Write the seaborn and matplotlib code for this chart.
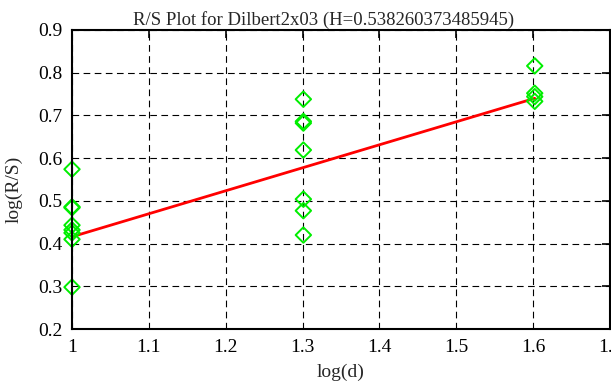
import numpy as np
import pandas as pd
import matplotlib
matplotlib.use("Agg")
import matplotlib.pyplot as plt
import seaborn as sns

# Data
x_levels = [1.0, 1.30103, 1.60206]
rs_at_10 = [0.574, 0.486, 0.484, 0.443, 0.432, 0.425, 0.410, 0.298]
rs_at_20 = [0.738, 0.686, 0.682, 0.619, 0.504, 0.477, 0.420]
rs_at_40 = [0.816, 0.752, 0.744, 0.733]
H = 0.538260373485945
intercept = -0.1223
title = "R/S Plot for Dilbert2x03 (H=0.538260373485945)"
x_ticks = [1.0, 1.1, 1.2, 1.3, 1.4, 1.5, 1.6, 1.7]
x_ticklabels = ["1", "1.1", "1.2", "1.3", "1.4", "1.5", "1.6", "1.7"]
y_ticks = [0.2, 0.3, 0.4, 0.5, 0.6, 0.7, 0.8, 0.9]

pts = pd.DataFrame({
    "logd": [x_levels[0]] * len(rs_at_10) + [x_levels[1]] * len(rs_at_20) + [x_levels[2]] * len(rs_at_40),
    "logrs": rs_at_10 + rs_at_20 + rs_at_40,
})
fit_x = np.array([min(x_levels), max(x_levels)])
fit = pd.DataFrame({"logd": fit_x, "logrs": intercept + H * fit_x})

sns.set_theme(style="white")
plt.rcParams["font.family"] = ["Liberation Serif", "DejaVu Serif"]

fig = plt.figure(figsize=(6.11, 3.85), dpi=100)
ax = fig.add_axes([72 / 611, 1 - 329 / 385, 538 / 611, 299 / 385])

sns.lineplot(data=fit, x="logd", y="logrs", ax=ax, color="#ff0000", linewidth=2.0, zorder=3)
sns.scatterplot(data=pts, x="logd", y="logrs", ax=ax, marker="D", s=62,
                facecolor="none", edgecolor="#00ee00", linewidth=1.4, zorder=4, clip_on=False)

ax.set_xlim(1.0, 1.7)
ax.set_ylim(0.2, 0.9)
ax.set_xticks(x_ticks)
ax.set_xticklabels(x_ticklabels)
ax.set_yticks(y_ticks)
ax.set_yticklabels([f"{v:.1f}" for v in y_ticks])
ax.grid(True, color="black", linestyle=(0, (6, 4)), linewidth=0.8)
ax.set_axisbelow(True)
for sp in ax.spines.values():
    sp.set_color("black")
    sp.set_linewidth(1.5)
    sp.set_zorder(5)
ax.tick_params(direction="in", length=6, width=1.2, top=True, right=True,
               labelsize=14, colors="black", pad=7)
ax.set_xlabel("log(d)", fontsize=14, labelpad=6)
ax.set_ylabel("log(R/S)", fontsize=14)
ax.yaxis.set_label_coords(-0.092, 0.468)
ax.set_title(title, fontsize=13.5, pad=4, x=0.467)

fig.savefig("out.png", dpi=100)
